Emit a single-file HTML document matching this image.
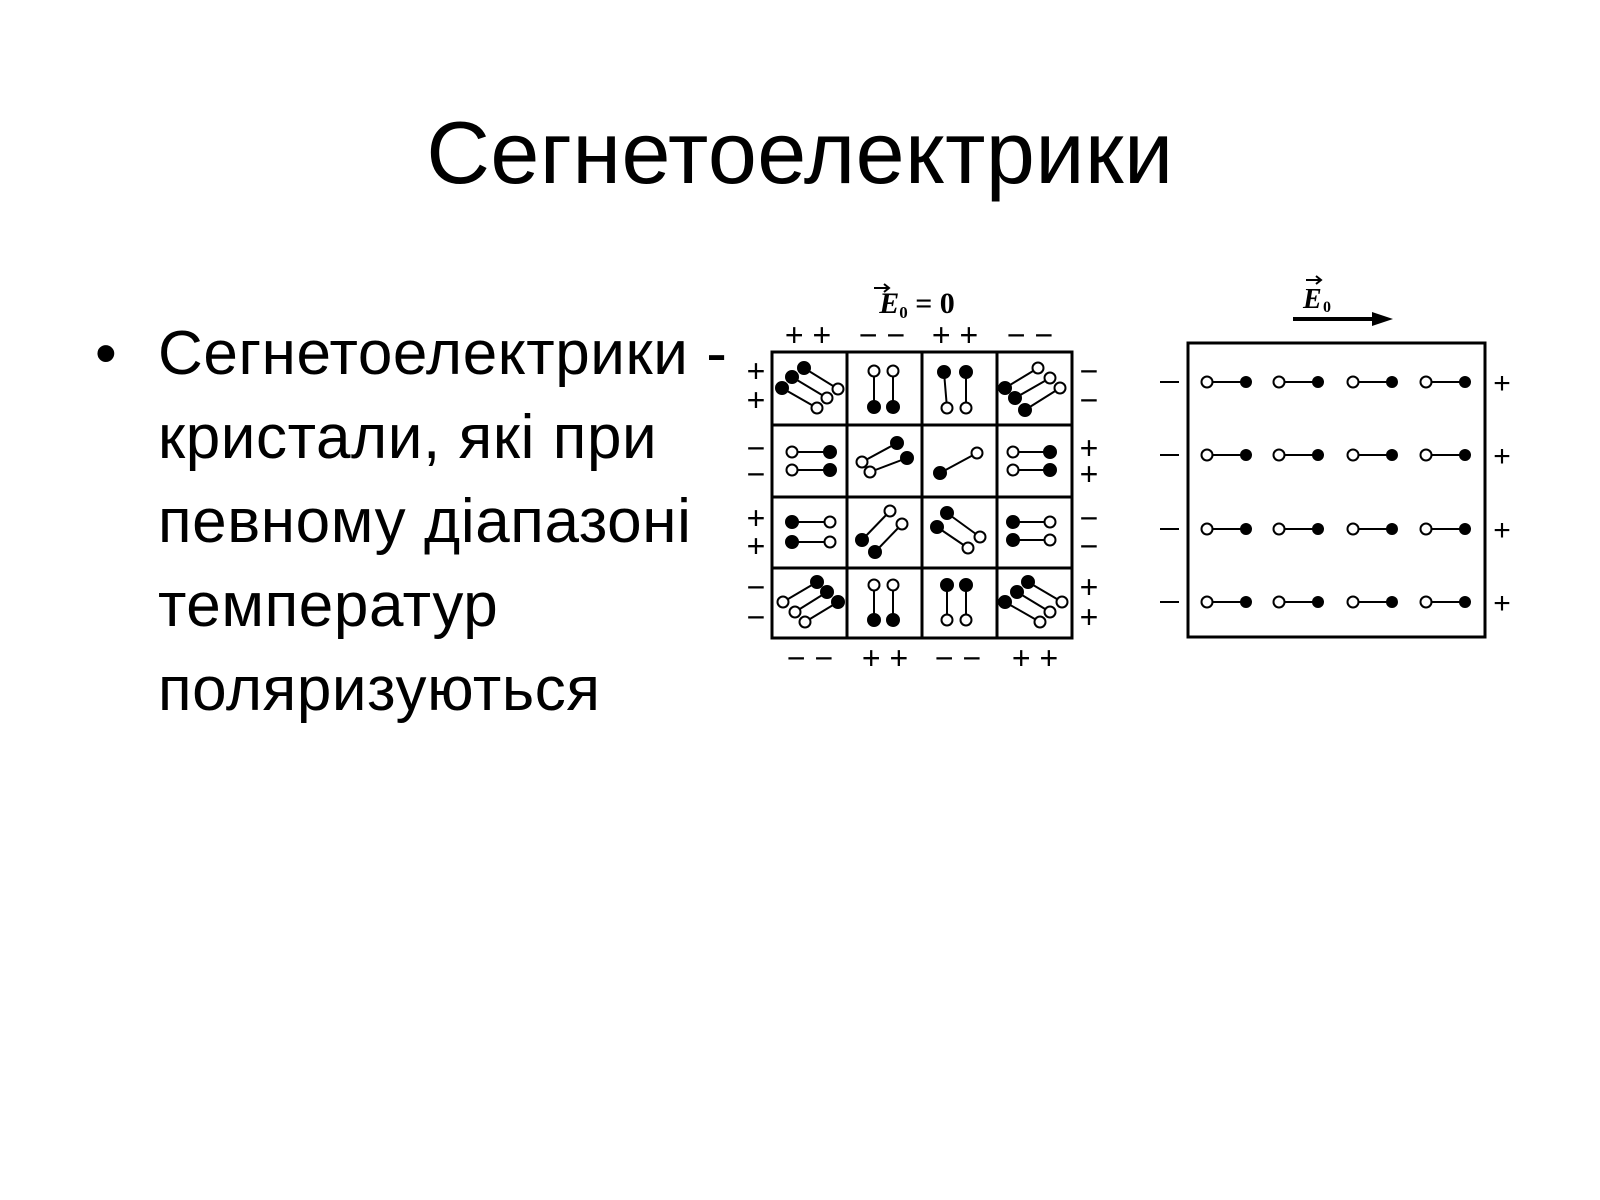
<!DOCTYPE html>
<html><head><meta charset="utf-8"><style>
html,body{margin:0;padding:0;background:#fff;}
body{width:1600px;height:1200px;position:relative;overflow:hidden;font-family:"Liberation Sans",sans-serif;color:#000;}
.title{position:absolute;left:0;width:1600px;top:103px;text-align:center;font-size:88px;line-height:100px;letter-spacing:0.5px;}
.txt{position:absolute;left:158px;top:312px;font-size:62px;line-height:84px;letter-spacing:0.6px;}
.bul{position:absolute;left:95px;top:312px;font-size:62px;line-height:84px;}
svg{position:absolute;left:0;top:0;}
</style></head><body>
<div class="title">Сегнетоелектрики</div>
<div class="bul">•</div>
<div class="txt">Сегнетоелектрики -<br>кристали, які при<br>певному діапазоні<br>температур<br>поляризуються</div>
<svg width="1600" height="1200" viewBox="0 0 1600 1200">
<g stroke="#000" fill="none" stroke-width="3">
<rect x="772" y="352" width="300" height="286"/>
<line x1="847" y1="352" x2="847" y2="638"/><line x1="922" y1="352" x2="922" y2="638"/><line x1="997" y1="352" x2="997" y2="638"/>
<line x1="772" y1="425" x2="1072" y2="425"/><line x1="772" y1="497" x2="1072" y2="497"/><line x1="772" y1="568" x2="1072" y2="568"/>
<rect x="1188" y="343" width="297" height="294"/>
</g>
<g stroke="#000" stroke-width="2">
<line x1="782" y1="388" x2="817" y2="408"/><line x1="792" y1="377" x2="827" y2="398"/><line x1="804" y1="368" x2="838" y2="389"/>
<line x1="1005" y1="388" x2="1038" y2="368"/><line x1="1015" y1="398" x2="1050" y2="378"/><line x1="1025" y1="410" x2="1060" y2="388"/>
<line x1="874" y1="371" x2="874" y2="407"/><line x1="893" y1="371" x2="893" y2="407"/>
<line x1="944" y1="372" x2="947" y2="408"/><line x1="966" y1="372" x2="966" y2="408"/>
<line x1="792" y1="452" x2="830" y2="452"/><line x1="792" y1="470" x2="830" y2="470"/>
<line x1="862" y1="462" x2="897" y2="443"/><line x1="870" y1="472" x2="907" y2="458"/>
<line x1="940" y1="473" x2="977" y2="453"/>
<line x1="1013" y1="452" x2="1050" y2="452"/><line x1="1013" y1="470" x2="1050" y2="470"/>
<line x1="792" y1="522" x2="830" y2="522"/><line x1="792" y1="542" x2="830" y2="542"/>
<line x1="862" y1="540" x2="890" y2="511"/><line x1="875" y1="552" x2="902" y2="524"/>
<line x1="947" y1="513" x2="980" y2="537"/><line x1="937" y1="527" x2="968" y2="548"/>
<line x1="1013" y1="522" x2="1050" y2="522"/><line x1="1013" y1="540" x2="1050" y2="540"/>
<line x1="783" y1="602" x2="817" y2="582"/><line x1="795" y1="612" x2="827" y2="592"/><line x1="805" y1="622" x2="838" y2="602"/>
<line x1="874" y1="585" x2="874" y2="620"/><line x1="893" y1="585" x2="893" y2="620"/>
<line x1="947" y1="585" x2="947" y2="620"/><line x1="966" y1="585" x2="966" y2="620"/>
<line x1="1005" y1="602" x2="1040" y2="622"/><line x1="1017" y1="592" x2="1050" y2="612"/><line x1="1028" y1="582" x2="1062" y2="602"/>
</g>
<g stroke="#000" stroke-width="2" fill="#000">
<circle cx="782" cy="388" r="6"/><circle cx="792" cy="377" r="6"/><circle cx="804" cy="368" r="6"/>
<circle cx="1005" cy="388" r="6"/><circle cx="1015" cy="398" r="6"/><circle cx="1025" cy="410" r="6"/>
<circle cx="874" cy="407" r="6"/><circle cx="893" cy="407" r="6"/>
<circle cx="944" cy="372" r="6"/><circle cx="966" cy="372" r="6"/>
<circle cx="830" cy="452" r="6"/><circle cx="830" cy="470" r="6"/>
<circle cx="897" cy="443" r="6"/><circle cx="907" cy="458" r="6"/>
<circle cx="940" cy="473" r="6"/>
<circle cx="1050" cy="452" r="6"/><circle cx="1050" cy="470" r="6"/>
<circle cx="792" cy="522" r="6"/><circle cx="792" cy="542" r="6"/>
<circle cx="862" cy="540" r="6"/><circle cx="875" cy="552" r="6"/>
<circle cx="947" cy="513" r="6"/><circle cx="937" cy="527" r="6"/>
<circle cx="1013" cy="522" r="6"/><circle cx="1013" cy="540" r="6"/>
<circle cx="817" cy="582" r="6"/><circle cx="827" cy="592" r="6"/><circle cx="838" cy="602" r="6"/>
<circle cx="874" cy="620" r="6"/><circle cx="893" cy="620" r="6"/>
<circle cx="947" cy="585" r="6"/><circle cx="966" cy="585" r="6"/>
<circle cx="1005" cy="602" r="6"/><circle cx="1017" cy="592" r="6"/><circle cx="1028" cy="582" r="6"/>
</g>
<g stroke="#000" stroke-width="2" fill="#fff">
<circle cx="817" cy="408" r="5.5"/><circle cx="827" cy="398" r="5.5"/><circle cx="838" cy="389" r="5.5"/>
<circle cx="1038" cy="368" r="5.5"/><circle cx="1050" cy="378" r="5.5"/><circle cx="1060" cy="388" r="5.5"/>
<circle cx="874" cy="371" r="5.5"/><circle cx="893" cy="371" r="5.5"/>
<circle cx="947" cy="408" r="5.5"/><circle cx="966" cy="408" r="5.5"/>
<circle cx="792" cy="452" r="5.5"/><circle cx="792" cy="470" r="5.5"/>
<circle cx="862" cy="462" r="5.5"/><circle cx="870" cy="472" r="5.5"/>
<circle cx="977" cy="453" r="5.5"/>
<circle cx="1013" cy="452" r="5.5"/><circle cx="1013" cy="470" r="5.5"/>
<circle cx="830" cy="522" r="5.5"/><circle cx="830" cy="542" r="5.5"/>
<circle cx="890" cy="511" r="5.5"/><circle cx="902" cy="524" r="5.5"/>
<circle cx="980" cy="537" r="5.5"/><circle cx="968" cy="548" r="5.5"/>
<circle cx="1050" cy="522" r="5.5"/><circle cx="1050" cy="540" r="5.5"/>
<circle cx="783" cy="602" r="5.5"/><circle cx="795" cy="612" r="5.5"/><circle cx="805" cy="622" r="5.5"/>
<circle cx="874" cy="585" r="5.5"/><circle cx="893" cy="585" r="5.5"/>
<circle cx="947" cy="620" r="5.5"/><circle cx="966" cy="620" r="5.5"/>
<circle cx="1040" cy="622" r="5.5"/><circle cx="1050" cy="612" r="5.5"/><circle cx="1062" cy="602" r="5.5"/>
</g>
<g font-family="Liberation Sans,sans-serif" font-size="32" text-anchor="middle" fill="#000">
<text x="808" y="346">+ +</text><text x="882" y="346">− −</text><text x="955" y="346">+ +</text><text x="1030" y="346">− −</text>
<text x="810" y="669">− −</text><text x="885" y="669">+ +</text><text x="958" y="669">− −</text><text x="1035" y="669">+ +</text>
<text x="756" y="382">+</text><text x="756" y="411">+</text><text x="756" y="459">−</text><text x="756" y="485">−</text>
<text x="756" y="529">+</text><text x="756" y="557">+</text><text x="756" y="598">−</text><text x="756" y="628">−</text>
<text x="1089" y="382">−</text><text x="1089" y="411">−</text><text x="1089" y="459">+</text><text x="1089" y="485">+</text>
<text x="1089" y="529">−</text><text x="1089" y="557">−</text><text x="1089" y="598">+</text><text x="1089" y="628">+</text>
</g>
<text x="917" y="313" font-family="Liberation Serif,serif" font-size="30" font-weight="bold" text-anchor="middle"><tspan font-style="italic">E</tspan><tspan font-size="17" dy="5">0</tspan><tspan dy="-5"> = 0</tspan></text>
<path d="M874 288 L888 288 M884 284 L889 288 L884 292" stroke="#000" stroke-width="2" fill="none"/>
<text x="1303" y="308" font-family="Liberation Serif,serif" font-size="28" font-weight="bold" font-style="italic">E</text>
<text x="1323" y="312" font-family="Liberation Serif,serif" font-size="16" font-weight="bold">0</text>
<path d="M1306 280 L1320 280 M1316 276 L1321 280 L1316 284" stroke="#000" stroke-width="2" fill="none"/>
<line x1="1293" y1="319" x2="1375" y2="319" stroke="#000" stroke-width="4"/>
<polygon points="1372,312 1393,319 1372,326" fill="#000"/>
<g stroke="#000" stroke-width="2">
<line x1="1207" y1="382" x2="1246" y2="382"/><line x1="1279" y1="382" x2="1318" y2="382"/><line x1="1353" y1="382" x2="1392" y2="382"/><line x1="1426" y1="382" x2="1465" y2="382"/>
<line x1="1207" y1="455" x2="1246" y2="455"/><line x1="1279" y1="455" x2="1318" y2="455"/><line x1="1353" y1="455" x2="1392" y2="455"/><line x1="1426" y1="455" x2="1465" y2="455"/>
<line x1="1207" y1="529" x2="1246" y2="529"/><line x1="1279" y1="529" x2="1318" y2="529"/><line x1="1353" y1="529" x2="1392" y2="529"/><line x1="1426" y1="529" x2="1465" y2="529"/>
<line x1="1207" y1="602" x2="1246" y2="602"/><line x1="1279" y1="602" x2="1318" y2="602"/><line x1="1353" y1="602" x2="1392" y2="602"/><line x1="1426" y1="602" x2="1465" y2="602"/>
<line x1="1160" y1="382" x2="1179" y2="382"/><line x1="1160" y1="455" x2="1179" y2="455"/><line x1="1160" y1="529" x2="1179" y2="529"/><line x1="1160" y1="602" x2="1179" y2="602"/>
</g>
<g fill="#000">
<circle cx="1246" cy="382" r="6"/><circle cx="1318" cy="382" r="6"/><circle cx="1392" cy="382" r="6"/><circle cx="1465" cy="382" r="6"/>
<circle cx="1246" cy="455" r="6"/><circle cx="1318" cy="455" r="6"/><circle cx="1392" cy="455" r="6"/><circle cx="1465" cy="455" r="6"/>
<circle cx="1246" cy="529" r="6"/><circle cx="1318" cy="529" r="6"/><circle cx="1392" cy="529" r="6"/><circle cx="1465" cy="529" r="6"/>
<circle cx="1246" cy="602" r="6"/><circle cx="1318" cy="602" r="6"/><circle cx="1392" cy="602" r="6"/><circle cx="1465" cy="602" r="6"/>
</g>
<g fill="#fff" stroke="#000" stroke-width="2">
<circle cx="1207" cy="382" r="5.5"/><circle cx="1279" cy="382" r="5.5"/><circle cx="1353" cy="382" r="5.5"/><circle cx="1426" cy="382" r="5.5"/>
<circle cx="1207" cy="455" r="5.5"/><circle cx="1279" cy="455" r="5.5"/><circle cx="1353" cy="455" r="5.5"/><circle cx="1426" cy="455" r="5.5"/>
<circle cx="1207" cy="529" r="5.5"/><circle cx="1279" cy="529" r="5.5"/><circle cx="1353" cy="529" r="5.5"/><circle cx="1426" cy="529" r="5.5"/>
<circle cx="1207" cy="602" r="5.5"/><circle cx="1279" cy="602" r="5.5"/><circle cx="1353" cy="602" r="5.5"/><circle cx="1426" cy="602" r="5.5"/>
</g>
<g font-family="Liberation Sans,sans-serif" font-size="30" text-anchor="middle" fill="#000">
<text x="1502" y="393">+</text><text x="1502" y="466">+</text><text x="1502" y="540">+</text><text x="1502" y="613">+</text>
</g>
</svg>
</body></html>
